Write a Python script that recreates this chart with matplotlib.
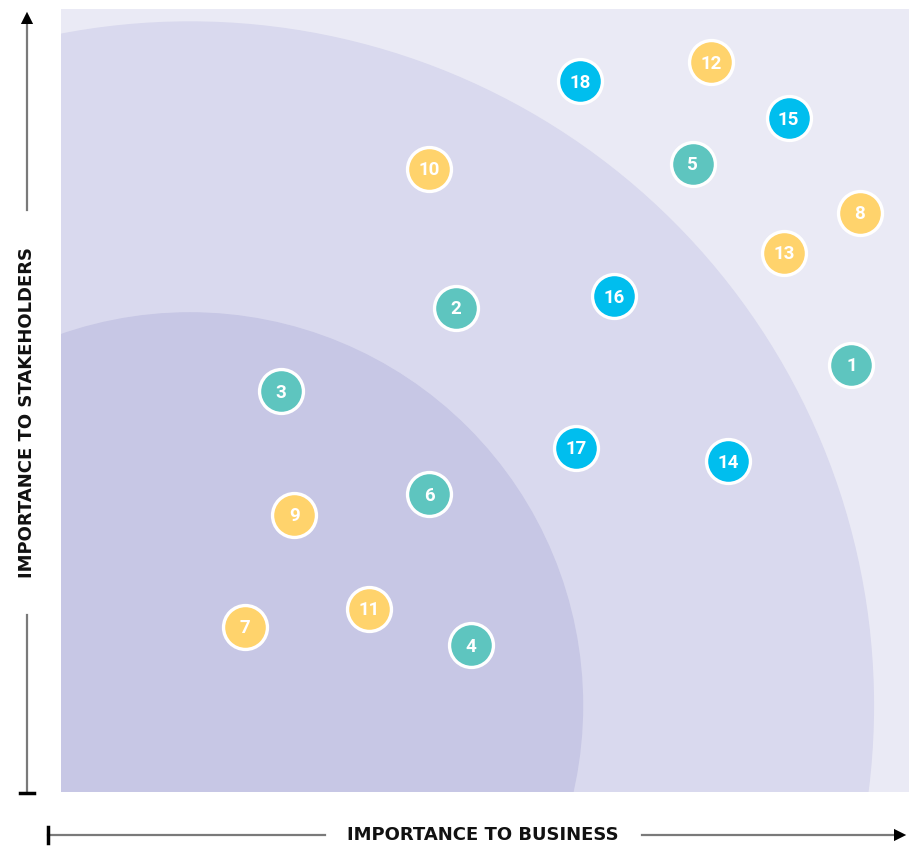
import matplotlib.pyplot as plt
from matplotlib.patches import Circle, Rectangle

# materiality matrix: business importance (x) vs stakeholder importance (y)
labels = ['1', '2', '3', '4', '5', '6', '7', '8', '9', '10',
          '11', '12', '13', '14', '15', '16', '17', '18']
business = [93.2, 46.6, 25.9, 48.3, 74.5, 43.4, 21.7, 94.2, 27.5, 43.4,
            36.3, 76.7, 85.3, 78.7, 85.8, 65.2, 60.7, 61.2]
stakeholders = [50.4, 57.1, 47.3, 17.3, 74.1, 35.1, 19.5, 68.3, 32.7, 73.5,
                21.6, 86.1, 63.6, 39.0, 79.5, 58.5, 40.6, 83.8]
groups = ['teal', 'teal', 'teal', 'teal', 'teal', 'teal', 'yellow', 'yellow', 'yellow', 'yellow',
          'yellow', 'yellow', 'yellow', 'blue', 'blue', 'blue', 'blue', 'blue']

colors = {'teal': '#5EC5BF', 'yellow': '#FFD36C', 'blue': '#00BEEE'}

fig = plt.figure(figsize=(9.09, 8.47), dpi=100)
ax = fig.add_axes([61 / 909, 55 / 847, 848 / 909, 783 / 847])
ax.set_xlim(0, 100)
ax.set_ylim(0, 783 / 8.48)
ax.set_aspect('equal')
ax.axis('off')

ax.add_patch(Rectangle((0, 0), 100, 100, color='#EAEAF5', zorder=0))
ax.add_patch(Circle((15.2, 10.2), 80.6, color='#D9D9EE', zorder=1))
ax.add_patch(Circle((15.2, 10.2), 46.3, color='#C7C7E5', zorder=2))

for x, y, lab, g in zip(business, stakeholders, labels, groups):
    ax.scatter(x, y, s=1000, color=colors[g], edgecolor='white', linewidth=2.4, zorder=5)
    ax.annotate(lab, (x, y), xytext=(0, -1.2), textcoords='offset points',
                color='white', fontsize=13.5, fontweight='bold', family='Roboto',
                ha='center', va='center', zorder=6)

# axis arrows drawn on an overlay in pixel units
ov = fig.add_axes([0, 0, 1, 1])
ov.set_xlim(0, 909)
ov.set_ylim(847, 0)
ov.axis('off')
ov.patch.set_alpha(0)

grey = '#7A7A7A'
ov.plot([27, 27], [22, 210], color=grey, lw=1.6)
ov.plot([27, 27], [615, 793], color=grey, lw=1.6)
ov.plot([20, 34], [793, 793], color='black', lw=2.5)
ov.annotate('', xy=(27, 9), xytext=(27, 30),
            arrowprops=dict(arrowstyle='-|>', color='black', lw=0, mutation_scale=22))
ov.plot([48, 325], [835, 835], color=grey, lw=1.6)
ov.plot([642, 895], [835, 835], color=grey, lw=1.6)
ov.plot([48, 48], [827, 843], color='black', lw=2.5)
ov.annotate('', xy=(909, 835), xytext=(888, 835),
            arrowprops=dict(arrowstyle='-|>', color='black', lw=0, mutation_scale=22))

ov.text(27, 413, 'IMPORTANCE TO STAKEHOLDERS', rotation=90, ha='center', va='center',
        fontsize=13, fontweight='bold', family='DejaVu Sans', color='#111111')
ov.text(483, 835, 'IMPORTANCE TO BUSINESS', ha='center', va='center',
        fontsize=13, fontweight='bold', family='DejaVu Sans', color='#111111')

fig.savefig('out.png', dpi=100)
